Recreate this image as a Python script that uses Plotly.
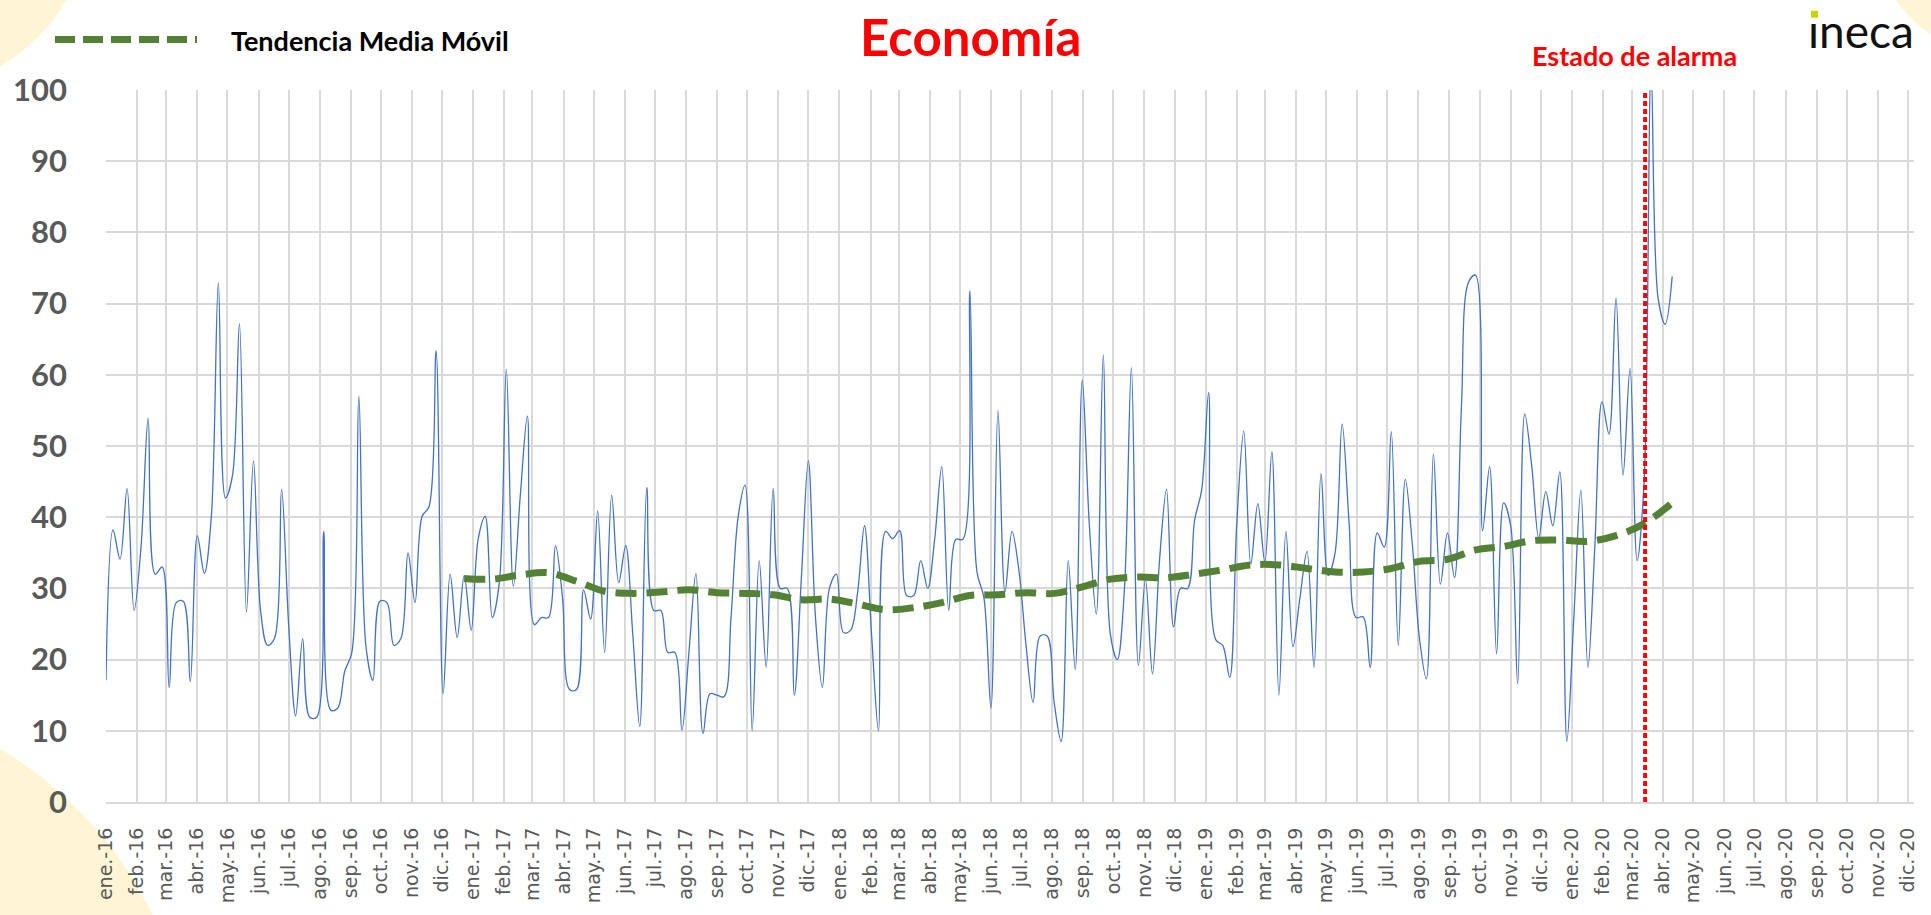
import pandas as pd
import plotly.graph_objects as go

# weekly values, first week 2016-01-04
start = "2016-01-04"
economia = [
    17.1, 38.2, 34.1, 44.0, 26.9, 36.0, 53.9, 32.0, 33.0, 16.1,
    28.0, 28.2, 16.9, 37.4, 32.1, 40.1, 72.9, 42.7, 45.8, 67.2,
    26.7, 47.9, 27.0, 22.0, 23.0, 43.9, 25.0, 12.1, 22.9, 11.9,
    11.9, 38.0, 12.9, 13.2, 18.4, 21.0, 57.0, 22.0, 17.1, 28.2,
    28.0, 22.0, 23.0, 35.0, 28.0, 40.1, 41.5, 63.4, 15.2, 32.0,
    23.1, 31.8, 24.1, 37.0, 40.1, 25.9, 30.8, 60.8, 30.3, 43.2,
    54.2, 24.9, 25.9, 25.9, 36.0, 28.7, 15.8, 15.8, 29.8, 25.7,
    40.9, 21.0, 43.1, 30.8, 36.0, 23.6, 10.6, 44.2, 26.9, 26.9,
    21.0, 21.0, 10.1, 21.0, 32.1, 9.6, 15.2, 15.0, 14.8, 26.0,
    40.0, 44.5, 10.0, 33.9, 18.9, 44.0, 30.0, 30.0, 15.0, 31.3,
    47.9, 26.2, 16.1, 30.0, 32.0, 23.8, 24.1, 29.3, 38.8, 23.6,
    10.0, 38.0, 37.0, 38.1, 29.0, 29.0, 33.9, 30.0, 37.0, 47.1,
    26.9, 36.9, 36.9, 71.8, 32.4, 28.7, 13.2, 55.0, 29.5, 38.0,
    32.4, 22.0, 14.0, 23.3, 23.3, 14.0, 8.5, 33.9, 18.6, 59.3,
    39.1, 26.4, 62.8, 23.6, 20.0, 29.8, 61.0, 19.2, 31.3, 18.0,
    33.9, 43.9, 24.6, 30.0, 30.0, 39.6, 43.8, 57.5, 22.8, 22.0,
    17.5, 39.1, 52.1, 33.4, 41.9, 33.7, 49.2, 15.0, 38.0, 21.8,
    28.7, 35.2, 18.9, 46.1, 31.8, 35.0, 53.1, 39.1, 25.9, 26.0,
    18.9, 37.8, 35.8, 52.0, 22.0, 45.3, 36.2, 23.1, 17.3, 48.9,
    30.6, 37.8, 31.5, 55.7, 73.0, 74.0, 38.1, 47.1, 20.8, 42.0,
    38.8, 16.6, 54.5, 47.2, 37.1, 43.6, 38.8, 46.4, 8.5, 26.0,
    43.8, 18.9, 36.2, 56.2, 51.7, 70.8, 45.9, 60.9, 33.9, 45.0,
    103.0, 70.7, 67.1, 73.8,
]

# moving average trend, read at these week numbers
ma_weeks = [51, 55, 59, 63, 67, 71, 75, 79, 83, 87, 91, 95, 99, 103, 107,
            111, 115, 119, 123, 127, 131, 135, 139, 143, 147, 151, 155, 159,
            163, 167, 171, 175, 179, 183, 187, 191, 195, 199, 203, 207, 211,
            215, 219, 223]
ma_values = [31.4, 31.3, 31.9, 32.2, 31.0, 29.6, 29.3, 29.5, 29.8, 29.4, 29.3,
             29.1, 28.4, 28.5, 27.8, 27.0, 27.3, 28.0, 29.0, 29.1, 29.4, 29.3,
             30.2, 31.3, 31.6, 31.5, 32.0, 32.6, 33.3, 33.3, 32.8, 32.3, 32.3,
             32.8, 33.8, 34.1, 35.4, 35.9, 36.7, 36.8, 36.6, 37.4, 39.1, 42.0]

meses = ["ene.", "feb.", "mar.", "abr.", "may.", "jun.",
         "jul.", "ago.", "sep.", "oct.", "nov.", "dic."]
alarma = "2020-03-17"
x_end = "2020-12-10"

fechas = pd.date_range(start, periods=len(economia), freq="7D")
ma_fechas = [pd.Timestamp(start) + pd.Timedelta(weeks=w) for w in ma_weeks]
tick_fechas = pd.date_range(start, periods=60, freq=pd.DateOffset(months=1))
tick_text = [f"{meses[d.month - 1]}-{d.strftime('%y')}" for d in tick_fechas]

W, H = 1931, 915
# plot area in pixels, used to place the decorations around it
L, R, T, B = 106, 1914, 90, 809
def px(X):
    return (X - L) / (R - L)
def py(Y):
    return (B - Y) / (B - T)

fig = go.Figure()
fig.add_trace(go.Scatter(x=fechas, y=economia, mode="lines",
                         line=dict(color="#4472C4", width=1.3, shape="spline", smoothing=1),
                         name="Economía", showlegend=False))
fig.add_trace(go.Scatter(x=ma_fechas, y=ma_values, mode="lines",
                         line=dict(color="#548235", width=7, dash="21px,10px", shape="spline"),
                         name="Tendencia Media Móvil", showlegend=False))

shapes = []
# pale yellow background circles
for cx, cy, r in [(-90, -90, 180), (-200, 1090, 390), (2000, -70, 125)]:
    shapes.append(dict(type="circle", xref="paper", yref="paper", layer="below",
                       x0=px(cx - r), x1=px(cx + r), y0=py(cy + r), y1=py(cy - r),
                       fillcolor="rgba(255,226,140,0.38)", line=dict(width=0)))
# alarm line
shapes.append(dict(type="line", xref="x", yref="y", x0=alarma, x1=alarma, y0=0, y1=100,
                   line=dict(color="#FF0000", width=4, dash="5px,3px")))
# legend sample
shapes.append(dict(type="line", xref="paper", yref="paper", x0=px(55), x1=px(197),
                   y0=py(39), y1=py(39),
                   line=dict(color="#548235", width=7, dash="20px,8px")))
# dot of the logo i
shapes.append(dict(type="rect", xref="paper", yref="paper", x0=px(1811), x1=px(1818),
                   y0=py(17), y1=py(10), fillcolor="#C8D400", line=dict(width=0)))

def label(text, X, Y, size, color, xanchor="center", bold=True):
    return dict(text=f"<b>{text}</b>" if bold else text, x=px(X), y=py(Y),
                xref="paper", yref="paper", xanchor=xanchor, yanchor="middle",
                showarrow=False, font=dict(family="Lato", size=size, color=color))

annotations = [
    label("Economía", 970, 36, 51, "#FF0000"),
    label("Estado de alarma", 1634, 55, 27, "#FF0000"),
    label("Tendencia Media Móvil", 229, 40, 27, "#000000", xanchor="left"),
    label("ıneca", 1806, 30, 46, "#111111", xanchor="left", bold=False),
]

fig.update_layout(
    width=W, height=H,
    margin=dict(l=L, r=W - R, t=T, b=H - B),
    paper_bgcolor="white",
    plot_bgcolor="white",
    shapes=shapes,
    annotations=annotations,
    showlegend=False,
)
fig.update_xaxes(
    type="date", range=[start, x_end],
    tickvals=tick_fechas, ticktext=tick_text, tickangle=-90,
    tickfont=dict(family="DejaVu Sans", size=19, color="#595959"),
    ticklabelstandoff=16,
    showgrid=True, gridcolor="#D9D9D9", gridwidth=2,
    showline=True, linecolor="#D9D9D9", linewidth=2,
    zeroline=False,
)
fig.update_yaxes(
    range=[0, 100], dtick=10,
    tickfont=dict(family="Lato", size=31, color="#595959", weight="bold"),
    ticklabelstandoff=38,
    showgrid=True, gridcolor="#D9D9D9", gridwidth=2,
    zeroline=False,
)

fig.write_html("out.html", config={"displayModeBar": False},
               post_script="document.body.style.margin='0px';")
